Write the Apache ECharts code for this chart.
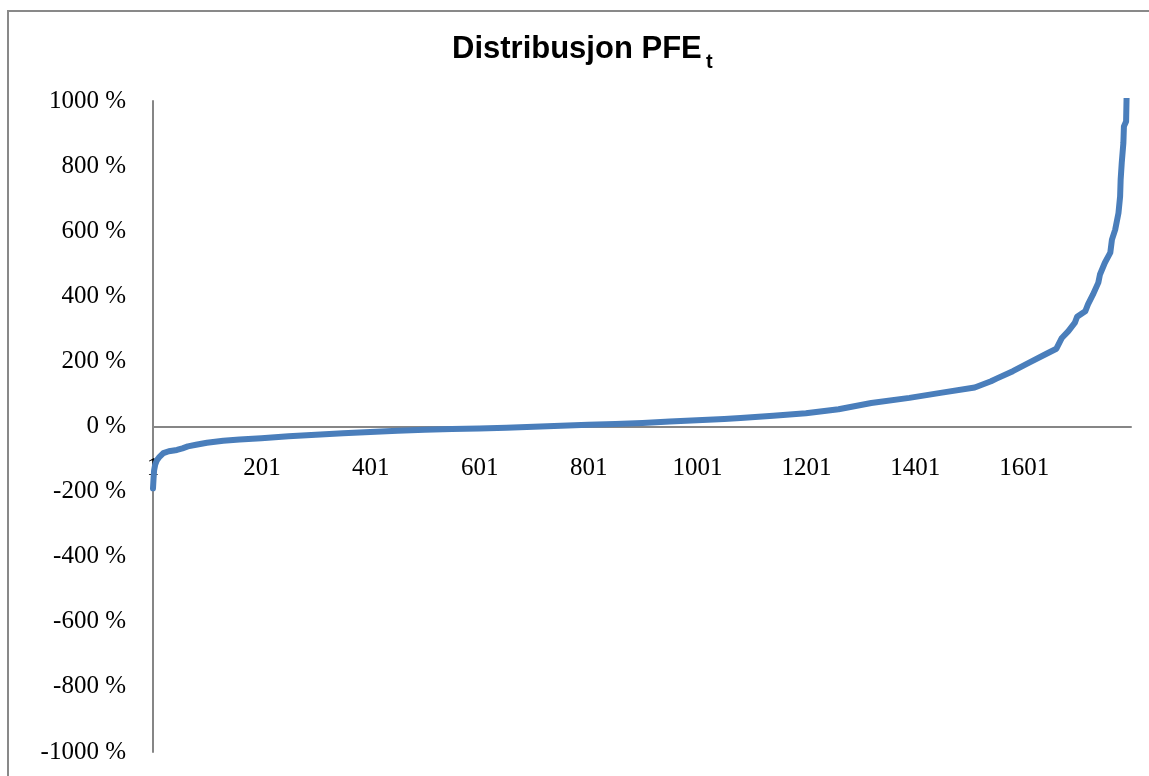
<!DOCTYPE html>
<html>
<head>
<meta charset="utf-8">
<title>Distribusjon PFE</title>
<script src="https://cdn.jsdelivr.net/npm/echarts@6/dist/echarts.min.js"></script>
<style>
  html, body { margin: 0; padding: 0; background: #ffffff; }
  #chart { width: 1149px; height: 776px; }
</style>
</head>
<body>
<div id="chart"></div>
<script>
// Sorted PFE_t observations: rank (1-based) and value in percent.
const ranks = [
  1, 2, 3, 5, 8, 12, 20, 30, 45, 55, 65, 80, 100, 130, 160, 200,
  250, 300, 350, 400, 450, 500, 550, 600, 650, 700, 750, 800, 850, 900,
  950, 1000, 1050, 1080, 1140, 1200, 1260, 1320, 1390, 1450, 1510, 1540,
  1550, 1580, 1610, 1640, 1660, 1670, 1682, 1694, 1698, 1713, 1718, 1727,
  1737, 1740, 1749, 1759, 1762, 1768, 1774, 1777, 1778, 1780, 1783, 1784,
  1788, 1789, 1791, 1794, 1797
];
const pfeValues = [
  -190, -160, -135, -117, -104, -95, -82, -76, -72, -67, -61, -56, -50, -44, -40, -36,
  -30, -25, -21, -17, -13, -10, -8, -6, -4, -1, 2, 5, 8, 11,
  15, 19, 23, 26, 33, 41, 53, 72, 88, 104, 120, 139,
  147, 170, 196, 222, 239, 272, 293, 319, 337, 354, 375, 405,
  442, 467, 503, 534, 574, 605, 656, 707, 759, 810, 871, 922,
  937, 1020, 1150, 1400, 2100
];

// Observation count on the category axis and label spacing.
const observationCount = 1797;
const xLabelStep = 200;
const categories = Array.from({ length: observationCount }, (_, i) => String(i + 1));

// Y axis range and step, percent.
const yMin = -1000;
const yMax = 1000;
const yStep = 200;

// Plot rectangle.
const plotLeft = 153;
const plotTop = 101;
const plotWidth = 978;
const plotHeight = 651;

const chart = echarts.init(document.getElementById('chart'), null, { renderer: 'canvas' });

const axisGray = '#868686';
const serif = "'Liberation Serif', 'Times New Roman', serif";

chart.setOption({
  animation: false,
  backgroundColor: '#ffffff',
  grid: {
    left: plotLeft, top: plotTop, width: plotWidth, height: plotHeight,
    containLabel: false, outerBoundsMode: 'none'
  },
  xAxis: {
    type: 'category',
    data: categories,
    boundaryGap: false,
    position: 'bottom',
    // the category axis runs along the 0 % line, halfway up the plot
    offset: -plotHeight / 2,
    axisLine: { onZero: false, lineStyle: { color: axisGray, width: 2 } },
    axisTick: { show: false },
    splitLine: { show: false },
    axisLabel: {
      interval: xLabelStep - 1,
      hideOverlap: false,
      color: '#000000',
      fontFamily: serif,
      fontSize: 25,
      margin: 29
    }
  },
  yAxis: {
    type: 'value',
    min: yMin,
    max: yMax,
    interval: yStep,
    axisLine: { show: true, lineStyle: { color: axisGray, width: 2 } },
    axisTick: { show: false },
    splitLine: { show: false },
    axisLabel: {
      color: '#000000',
      fontFamily: serif,
      fontSize: 25,
      margin: 27,
      formatter: v => v + ' %'
    }
  },
  graphic: [
    {
      type: 'rect',
      silent: true,
      shape: { x: 8, y: 11, width: 1200, height: 820 },
      style: { fill: 'none', stroke: '#898989', lineWidth: 2 }
    },
    {
      type: 'text',
      left: 452,
      top: 34,
      style: {
        text: 'Distribusjon PFE',
        font: "bold 31px 'Liberation Sans', Arial, sans-serif",
        fill: '#000000'
      }
    },
    {
      type: 'text',
      left: 706,
      top: 52,
      style: {
        text: 't',
        font: "bold 20px 'Liberation Sans', Arial, sans-serif",
        fill: '#000000'
      }
    }
  ],
  series: [
    {
      type: 'line',
      data: ranks.map((r, i) => [String(r), pfeValues[i]]),
      showSymbol: false,
      symbol: 'none',
      clip: true,
      smooth: false,
      lineStyle: { color: '#4a7ebb', width: 6, cap: 'round', join: 'round' },
      itemStyle: { color: '#4a7ebb' }
    }
  ]
});
</script>
</body>
</html>
